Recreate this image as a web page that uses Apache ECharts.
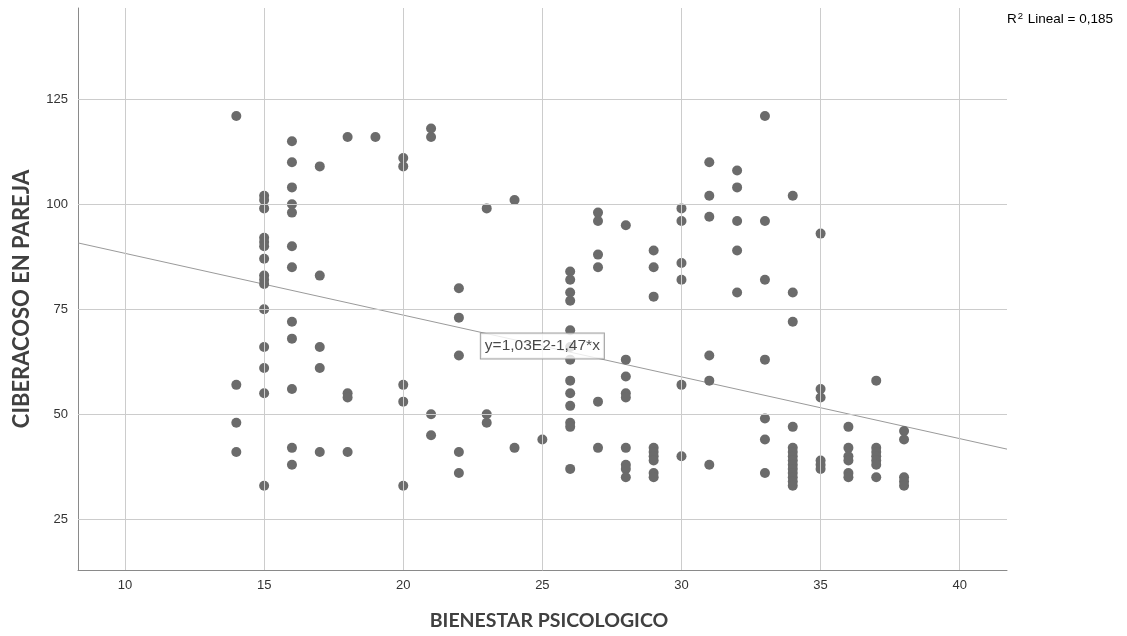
<!DOCTYPE html>
<html>
<head>
<meta charset="utf-8">
<script src="https://cdn.jsdelivr.net/npm/echarts@6/dist/echarts.min.js"></script>
<style>html,body{margin:0;padding:0;background:#fff}#c{width:1127px;height:636px}</style>
</head>
<body>
<div id="c"></div>
<script>
// BIENESTAR PSICOLOGICO (x) and CIBERACOSO EN PAREJA (y)
const bienestar = [
  14,14,14,14,
  15,15,15,15,15,15,15,15,15,15,15,15,15,15,15,
  16,16,16,16,16,16,16,16,16,16,16,16,
  17,17,17,17,17,
  18,18,18,18,
  19,
  20,20,20,20,20,
  21,21,21,21,
  22,22,22,22,22,
  23,23,23,
  24,24,
  25,
  26,26,26,26,26,26,26,26,26,26,26,26,26,
  27,27,27,27,27,27,
  28,28,28,28,28,28,28,28,28,
  29,29,29,29,29,29,29,29,29,
  30,30,30,30,30,30,
  31,31,31,31,31,31,
  32,32,32,32,32,
  33,33,33,33,33,33,33,
  34,34,34,34,34,34,34,34,34,34,34,34,34,34,
  35,35,35,35,35,35,
  36,36,36,36,36,36,
  37,37,37,37,37,37,37,
  38,38,38,38,38
];
const ciberacoso = [
  121,57,48,41,
  102,101,99,92,91,90,87,83,82,81,75,66,61,55,33,
  115,110,104,100,98,90,85,72,68,56,42,38,
  109,83,66,61,41,
  116,55,54,41,
  116,
  111,109,57,53,33,
  118,116,50,45,
  80,73,64,41,36,
  99,50,48,
  101,42,
  44,
  84,82,79,77,70,66,63,58,55,52,48,47,37,
  98,96,88,85,53,42,
  95,63,59,55,54,42,38,37,35,
  89,85,78,42,41,40,39,36,35,
  99,96,86,82,57,40,
  110,102,97,64,58,38,
  108,104,96,89,79,
  121,96,82,63,49,44,36,
  102,79,72,47,42,41,40,39,38,37,36,35,34,33,
  93,56,54,39,38,37,
  47,42,40,39,36,35,
  58,42,41,40,39,38,35,
  46,44,35,34,33
];
const xTicks = [10,15,20,25,30,35,40];
const yTicks = [25,50,75,100,125];
const fitIntercept = 103;   // y=1,03E2-1,47*x
const fitSlope = -1.47;
const fitLabel = 'y=1,03E2-1,47*x';
const r2Text = '0,185';

const X_MIN = 8.31, X_MAX = 41.7, Y_MIN = 12.93, Y_MAX = 146.7;
const points = bienestar.map((x, i) => [x, ciberacoso[i]]);
const fitY = x => fitIntercept + fitSlope * x;

const chart = echarts.init(document.getElementById('c'), null, {renderer: 'canvas'});
const axisLabelStyle = {color: '#333333', fontSize: 13, fontFamily: 'Liberation Sans, Arial, sans-serif'};
chart.setOption({
  animation: false,
  backgroundColor: '#ffffff',
  grid: {left: 78, right: 120, top: 8, bottom: 66, containLabel: false},
  xAxis: {
    type: 'value', min: X_MIN, max: X_MAX,
    axisLine: {show: true, lineStyle: {color: '#8a8a8a', width: 1}},
    axisTick: {show: false},
    splitLine: {show: false},
    axisLabel: Object.assign({customValues: xTicks, margin: 9}, axisLabelStyle)
  },
  yAxis: {
    type: 'value', min: Y_MIN, max: Y_MAX,
    axisLine: {show: true, lineStyle: {color: '#8a8a8a', width: 1}},
    axisTick: {show: false},
    splitLine: {show: false},
    axisLabel: Object.assign({customValues: yTicks, margin: 10}, axisLabelStyle)
  },
  graphic: [
    {type: 'text', x: 549, y: 621,
     style: {text: 'BIENESTAR PSICOLOGICO', fill: '#404040', font: 'bold 19.5px Lato, "Open Sans", sans-serif', align: 'center', verticalAlign: 'middle'}},
    {type: 'text', x: 22, y: 299, rotation: Math.PI / 2,
     style: {text: 'CIBERACOSO EN PAREJA', fill: '#404040', font: 'bold 22px Lato, "Open Sans", sans-serif', align: 'center', verticalAlign: 'middle'}},
    {type: 'text', left: 1007, top: 11,
     style: {text: '{r|R}{s|2}{r| Lineal = ' + r2Text + '}', rich: {
       r: {fontSize: 13.5, fontFamily: 'Liberation Sans, Arial, sans-serif', color: '#6a6a6a'},
       s: {fontSize: 9.5, color: '#6a6a6a', fontFamily: 'Liberation Sans, Arial, sans-serif', padding: [0, 1, 7, 1]}
     }}}
  ],
  series: [
    {
      type: 'scatter', data: [], z: 1, silent: true,
      markLine: {
        silent: true, symbol: ['none', 'none'], animation: false,
        label: {show: false},
        lineStyle: {color: '#cccccc', type: 'solid', width: 1},
        data: xTicks.map(v => ({xAxis: v})).concat(yTicks.map(v => ({yAxis: v})))
      }
    },
    {
      type: 'line', z: 2, silent: true, symbol: 'none',
      data: [[X_MIN, fitY(X_MIN)], [X_MAX, fitY(X_MAX)]],
      lineStyle: {color: '#9a9a9a', width: 1}
    },
    {
      type: 'scatter', z: 3, symbol: 'circle', symbolSize: 10,
      data: points,
      itemStyle: {color: '#6b6b6b', opacity: 1}
    },
    {
      type: 'scatter', z: 5, symbolSize: 2, silent: true,
      data: [[25, fitY(25)]],
      itemStyle: {color: 'rgba(0,0,0,0)'},
      label: {
        show: true, position: 'inside', formatter: fitLabel,
        color: '#1a1a1a', fontSize: 15.5, fontFamily: 'Liberation Sans, Arial, sans-serif',
        backgroundColor: '#ffffff', borderColor: '#8a8a8a', borderWidth: 1,
        padding: [5, 4, 4, 4]
      }
    }
  ]
});
</script>
</body>
</html>
